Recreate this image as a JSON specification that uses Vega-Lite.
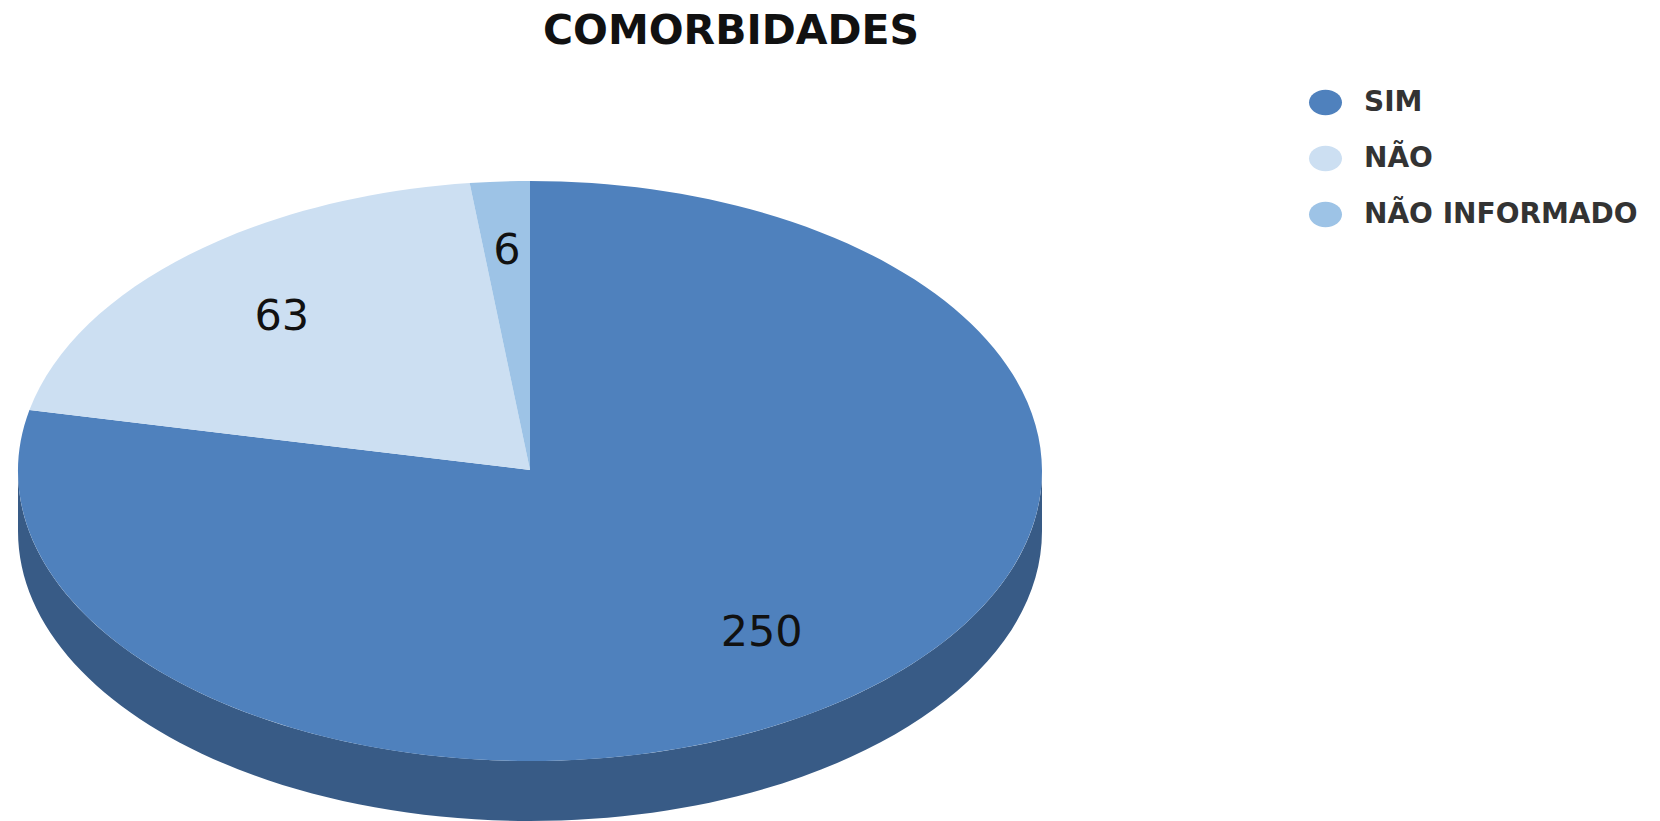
{
  "$schema": "https://vega.github.io/schema/vega-lite/v6.json",
  "width": 1660,
  "height": 821,
  "padding": 0,
  "autosize": "none",
  "background": "white",
  "view": {"stroke": null},
  "title": {"text": "COMORBIDADES", "font": "DejaVu Sans", "fontWeight": "bold", "fontSize": 41, "color": "#111111", "anchor": "start", "frame": "group", "dx": 543, "offset": -53},
  "params": [
    {"name": "rx", "value": 512},
    {"name": "ry", "value": 290},
    {"name": "depth", "value": 60},
    {"name": "apex", "value": -1}
  ],
  "data": {"values": [
    {"categoria": "SIM", "valor": 250, "ordem": 1},
    {"categoria": "NÃO", "valor": 63, "ordem": 2},
    {"categoria": "NÃO INFORMADO", "valor": 6, "ordem": 3}
  ]},
  "transform": [
    {"joinaggregate": [{"op": "sum", "field": "valor", "as": "total"}]},
    {"stack": "valor", "sort": [{"field": "ordem", "order": "ascending"}], "as": ["v0", "v1"]},
    {"calculate": "2*PI*datum.v0/datum.total", "as": "a0"},
    {"calculate": "2*PI*datum.v1/datum.total", "as": "a1"},
    {"calculate": "(datum.a0+datum.a1)/2", "as": "amid"},
    {"calculate": "'M0,'+apex+'L'+round(rx*sin(datum.a0)*100)/100+','+round(-ry*cos(datum.a0)*100)/100+'A'+rx+','+ry+' 0 '+(datum.a1-datum.a0>PI?1:0)+' 1 '+round(rx*sin(datum.a1)*100)/100+','+round(-ry*cos(datum.a1)*100)/100+'Z'", "as": "fatia"},
    {"calculate": "'M'+(-rx)+',0A'+rx+','+ry+' 0 0 0 '+rx+',0L'+rx+','+depth+'A'+rx+','+ry+' 0 0 1 '+(-rx)+','+depth+'Z'", "as": "parede"},
    {"calculate": "datum.valor<10?0.76:0.72", "as": "k"},
    {"calculate": "datum.k*rx*sin(datum.amid)", "as": "lx"},
    {"calculate": "datum.k*ry*cos(datum.amid)", "as": "ly"}
  ],
  "layer": [
    {
      "transform": [{"filter": "datum.categoria==='SIM'"}],
      "mark": {"type": "point", "filled": true, "opacity": 1, "size": 4, "color": "#385B86", "strokeWidth": 0},
      "encoding": {
        "x": {"datum": 0, "type": "quantitative", "scale": {"domain": [-530, 1130]}, "axis": null},
        "y": {"datum": 0, "type": "quantitative", "scale": {"domain": [-350, 471]}, "axis": null},
        "shape": {"field": "parede", "type": "nominal", "scale": null, "legend": null}
      }
    },
    {
      "mark": {"type": "point", "filled": true, "opacity": 1, "size": 4, "strokeWidth": 0},
      "encoding": {
        "x": {"datum": 0, "type": "quantitative", "scale": {"domain": [-530, 1130]}, "axis": null},
        "y": {"datum": 0, "type": "quantitative", "scale": {"domain": [-350, 471]}, "axis": null},
        "shape": {"field": "fatia", "type": "nominal", "scale": null, "legend": null},
        "color": {
          "field": "categoria", "type": "nominal", "sort": ["SIM", "NÃO", "NÃO INFORMADO"],
          "scale": {"domain": ["SIM", "NÃO", "NÃO INFORMADO"], "range": ["#4F81BD", "#CCDFF2", "#9DC3E6"]},
          "legend": {
            "title": null, "orient": "none", "legendX": 1309, "legendY": 86, "padding": 0,
            "symbolType": "M-1,0A1,0.77 0 1 1 1,0A1,0.77 0 1 1 -1,0Z", "symbolSize": 1089, "symbolStrokeWidth": 0,
            "labelFont": "DejaVu Sans", "labelFontWeight": "bold", "labelFontSize": 28, "labelColor": "#333333",
            "labelOffset": 22, "rowPadding": 25, "labelLimit": 400
          }
        }
      }
    },
    {
      "mark": {"type": "text", "font": "DejaVu Sans", "fontSize": 43, "color": "#111111", "align": "center", "baseline": "middle"},
      "encoding": {
        "x": {"field": "lx", "type": "quantitative", "scale": {"domain": [-530, 1130]}, "axis": null},
        "y": {"field": "ly", "type": "quantitative", "scale": {"domain": [-350, 471]}, "axis": null},
        "text": {"field": "valor", "type": "quantitative"}
      }
    }
  ]
}
